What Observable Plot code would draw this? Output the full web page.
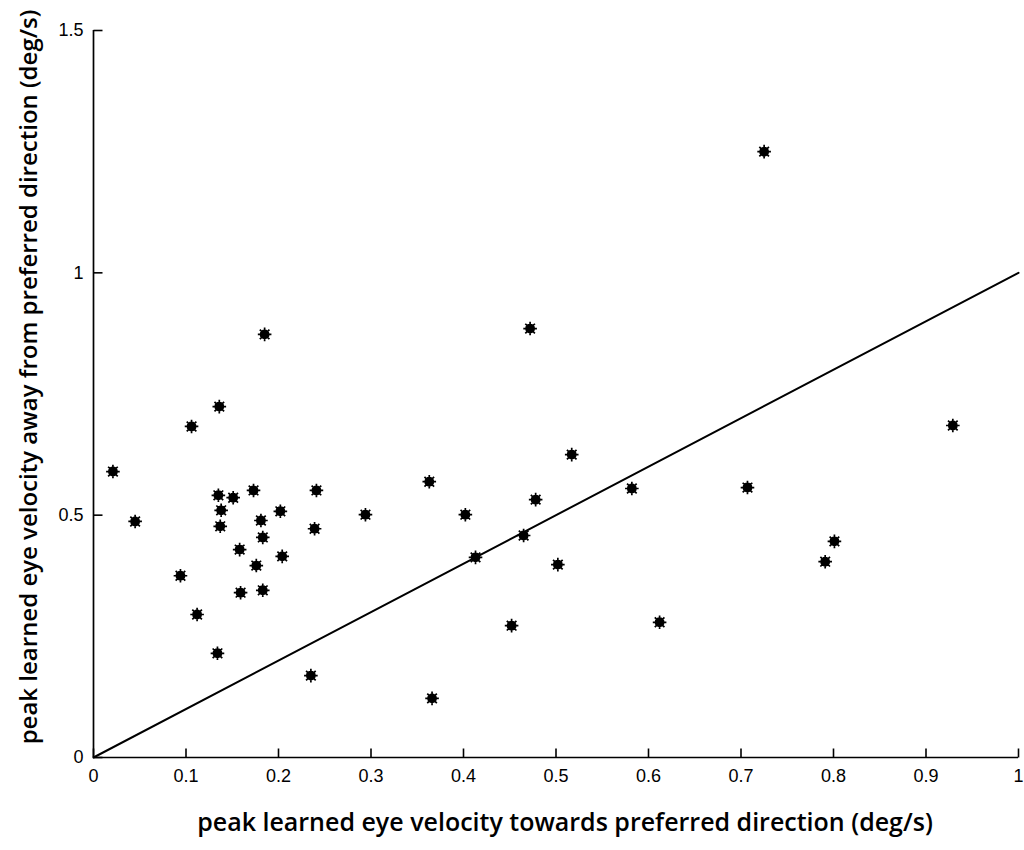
<!DOCTYPE html>
<html>
<head>
<meta charset="utf-8">
<script src="https://cdn.jsdelivr.net/npm/d3@7"></script>
<script src="https://cdn.jsdelivr.net/npm/@observablehq/plot@0.6"></script>
<style>
  html, body { margin: 0; padding: 0; background: #fff; }
  #chart svg { display: block; }
</style>
</head>
<body>
<div id="chart"></div>
<script>
// Peak learned eye velocity, per recorded cell (deg/s)
const towards = [
  0.021, 0.045, 0.094, 0.106, 0.112, 0.136, 0.135, 0.138, 0.137, 0.134,
  0.151, 0.158, 0.159, 0.173, 0.176, 0.181, 0.183, 0.183, 0.185, 0.202,
  0.204, 0.235, 0.239, 0.241, 0.294, 0.363, 0.366, 0.402, 0.413, 0.452,
  0.465, 0.472, 0.478, 0.502, 0.517, 0.582, 0.612, 0.707, 0.725, 0.791,
  0.801, 0.929
];
const away = [
  0.590, 0.487, 0.375, 0.683, 0.295, 0.724, 0.541, 0.510, 0.477, 0.215,
  0.536, 0.429, 0.340, 0.551, 0.396, 0.489, 0.454, 0.345, 0.873, 0.508,
  0.415, 0.169, 0.472, 0.551, 0.501, 0.569, 0.122, 0.501, 0.413, 0.272,
  0.458, 0.885, 0.532, 0.398, 0.625, 0.555, 0.279, 0.557, 1.250, 0.404,
  0.446, 0.685
];
const xTicks = [0, 0.1, 0.2, 0.3, 0.4, 0.5, 0.6, 0.7, 0.8, 0.9, 1];
const yTicks = [0, 0.5, 1, 1.5];
const unity = [0, 1];

const xLabel = "peak learned eye velocity towards preferred direction (deg/s)";
const yLabel = "peak learned eye velocity away from preferred direction (deg/s)";

const cells = towards.map((t, i) => ({towards: t, away: away[i]}));

// Eight-spoke asterisk with a solid hub
const asterisk = {
  draw(ctx, size) {
    const r = Math.sqrt(size / Math.PI);
    for (let k = 0; k < 4; ++k) {
      const a = (k * Math.PI) / 4;
      const dx = r * Math.cos(a), dy = r * Math.sin(a);
      ctx.moveTo(-dx, -dy);
      ctx.lineTo(dx, dy);
    }
    const h = r * 0.6;
    ctx.moveTo(h, 0);
    ctx.arc(0, 0, h, 0, 2 * Math.PI);
  }
};

const W = 1024, H = 850;
const mL = 93, mR = 6, mT = 30, mB = 93;
const frameW = W - mL - mR, frameH = H - mT - mB;
const xDomain = [0, 1], yDomain = [0, 1.5];

// inward tick length (px), expressed in each scale's units
const tickPx = 9;
const xTickLen = tickPx * (xDomain[1] - xDomain[0]) / frameW;
const yTickLen = tickPx * (yDomain[1] - yDomain[0]) / frameH;

const tickFont = "'Liberation Sans', Arial, sans-serif";
const labelFont = "'Open Sans', 'Noto Sans', sans-serif";

const chart = Plot.plot({
  width: W,
  height: H,
  marginLeft: mL,
  marginRight: mR,
  marginTop: mT,
  marginBottom: mB,
  style: { fontFamily: tickFont, color: "#000", background: "#fff" },
  x: { domain: xDomain, axis: null },
  y: { domain: yDomain, axis: null },
  marks: [
    // tick marks pointing into the plot
    Plot.link(xTicks, { x1: d => d, x2: d => d, y1: 0, y2: yTickLen, stroke: "#000", strokeWidth: 1.6 }),
    Plot.link(yTicks, { x1: 0, x2: xTickLen, y1: d => d, y2: d => d, stroke: "#000", strokeWidth: 1.6 }),
    // tick labels
    Plot.text(xTicks, { x: d => d, y: 0, dy: 19, text: d => String(d), fontSize: 18, fontFamily: tickFont, fill: "#000" }),
    Plot.text(yTicks, { x: 0, y: d => d, dx: -10, text: d => String(d), textAnchor: "end", fontSize: 18, fontFamily: tickFont, fill: "#000" }),
    // axis lines
    Plot.ruleY([0], { stroke: "#000", strokeWidth: 1.7 }),
    Plot.ruleX([0], { stroke: "#000", strokeWidth: 1.7 }),
    // unity line
    Plot.line(unity, { x: d => d, y: d => d, stroke: "#000", strokeWidth: 2 }),
    Plot.dot(cells, { x: "towards", y: "away", symbol: asterisk, r: 6.8, stroke: "#000", fill: "#000", strokeWidth: 1.7 }),
    Plot.text([xLabel], {
      frameAnchor: "bottom", dy: 73, dx: 9, text: d => d, textAnchor: "middle",
      fontSize: 25, fontFamily: labelFont, fontWeight: 600, fill: "#000"
    }),
    Plot.text([yLabel], {
      frameAnchor: "left", dx: -64, dy: -17, rotate: -90, text: d => d, textAnchor: "middle",
      fontSize: 24, fontFamily: labelFont, fontWeight: 600, fill: "#000"
    })
  ]
});

document.getElementById("chart").appendChild(chart);
</script>
</body>
</html>
